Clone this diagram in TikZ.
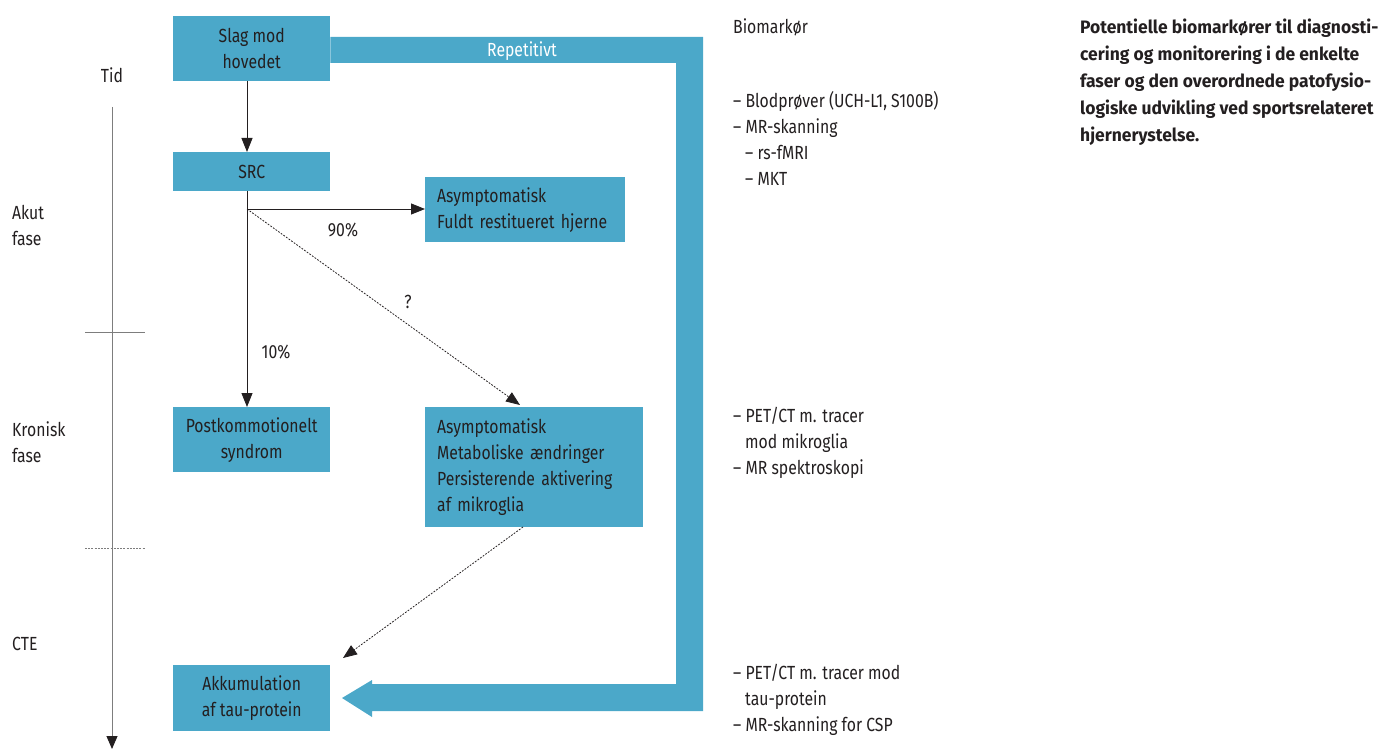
\documentclass[tikz,border=0pt]{standalone}
\usepackage{fontspec}
\setmainfont[FakeStretch=0.83]{Fira Sans}
\newfontfamily\capfont[FakeStretch=0.97]{Fira Sans}
\usetikzlibrary{arrows.meta,calc}
\definecolor{cblue}{RGB}{75,168,201}
\definecolor{ink}{RGB}{35,31,32}
\definecolor{tline}{RGB}{125,125,125}
\tikzset{
  every node/.style={text=ink, font=\fontsize{19}{26}\selectfont},
  cbox/.style={fill=cblue, inner sep=0pt, minimum width=157pt, align=center, anchor=north west},
  lbox/.style={fill=cblue, inner xsep=12pt, inner ysep=0pt, align=left, anchor=north west},
  arr/.style={draw=ink, line width=0.9pt, -{Triangle[length=14pt,width=11pt]}},
  darr/.style={draw=ink, line width=0.8pt, dash pattern=on 1.8pt off 1.4pt, -{Triangle[length=14pt,width=11pt]}},
  lbl/.style={inner sep=0pt},
  listtxt/.style={inner sep=0pt, align=left, anchor=west},
}
\begin{document}
\begin{tikzpicture}[x=1pt,y=-1pt]
\useasboundingbox (0,0) rectangle (1387,749);

% boxes
\node[cbox, minimum height=65pt] (slag) at (173,16) {Slag mod\\hovedet};
\node[cbox, minimum height=39pt] (src) at (173,152) {SRC};
\node[lbox, text width=176pt, minimum height=65pt] (fuldt) at (425,177) {Asymptomatisk\\Fuldt restitueret hjerne};
\node[cbox, minimum height=65pt] (post) at (173,407) {Postkommotionelt\\syndrom};
\node[lbox, text width=194pt, minimum height=120pt] (meta) at (425,407) {Asymptomatisk\\Metaboliske ændringer\\Persisterende aktivering\\af mikroglia};
\node[cbox, minimum height=66pt] (akku) at (173,665) {Akkumulation\\af tau-protein};

% big repetitive arrow
\fill[cblue] (slag.east |- 0,37) -- (703,37) -- (703,711) -- (372,711) -- (372,717)
  -- (342,698) -- (372,680) -- (372,684) -- (676,684) -- (676,63) -- (slag.east |- 0,63) -- cycle;
\node[lbl, text=white] (rep) at (522,51) {Repetitivt};

% connectors
\coordinate (branch) at (247,209);
\coordinate (qtip) at (520,405);
\coordinate (mstart) at (523,527);
\coordinate (ctip) at (343,658);
\draw[arr] (slag.south -| branch) -- (src.north -| branch);
\draw[arr] (src.south -| branch) -- (post.north -| branch);
\draw[arr] (branch) -- (fuldt.west |- branch);
\draw[darr] (branch) -- (qtip);
\draw[darr] (mstart) -- (ctip);
\node[lbl] (p90) at (343,230) {90\%};
\node[lbl] (pq) at (408,302) {?};
\node[lbl] (p10) at (276,352) {10\%};

% timeline
\coordinate (tstart) at (112,107);
\coordinate (tend) at (112,749);
\draw[tline, line width=1pt, -{Triangle[length=13pt,width=11pt,color=ink]}] (tstart) -- (tend);
\coordinate (t1a) at (85,332);
\coordinate (t1b) at (145,332);
\coordinate (t2a) at (85,548);
\coordinate (t2b) at (145,548);
\draw[tline, line width=1pt] (t1a) -- (t1b);
\draw[tline, line width=0.9pt, dash pattern=on 2pt off 1.2pt] (t2a) -- (t2b);
\node[lbl] (tid) at (112,75) {Tid};
\node[listtxt, anchor=north west] (akut) at (12,205) {Akut\\fase};
\node[listtxt, anchor=north west] (kron) at (12,421) {Kronisk\\fase};
\node[listtxt] (cte) at (12,644) {CTE};

% biomarkers
\node[listtxt] (bio) at (733,27) {Biomarkør};
\node[listtxt, anchor=north west] (bl1) at (733,91) {– Blodprøver (UCH-L1, S100B)\\– MR-skanning\\\hspace*{12pt}– rs-fMRI\\\hspace*{12pt}– MKT};
\node[listtxt, anchor=north west] (bl2) at (733,407) {– PET/CT m. tracer\\\hspace*{12pt}mod mikroglia\\– MR spektroskopi};
\node[listtxt, anchor=north west] (bl3) at (733,664) {– PET/CT m. tracer mod\\\hspace*{12pt}tau-protein\\– MR-skanning for CSP};

% caption
\node[listtxt, anchor=north west, font=\capfont\bfseries\fontsize{18}{27}\selectfont] (cap) at (1080,19) {Potentielle biomarkører til diagnosti-\\cering og monitorering i de enkelte\\faser og den overordnede patofysio-\\logiske udvikling ved sportsrelateret\\hjernerystelse.};
\end{tikzpicture}
\end{document}
